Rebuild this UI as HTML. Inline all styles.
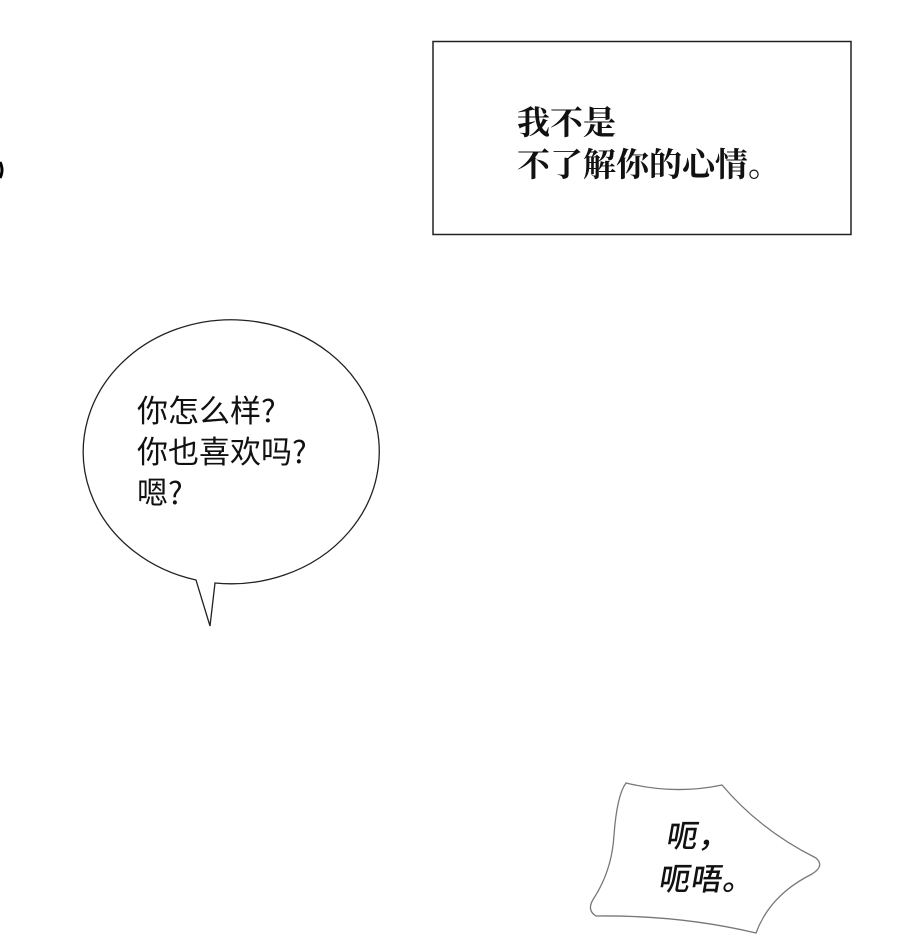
<!DOCTYPE html>
<html><head><meta charset="utf-8"><style>
body{margin:0;width:900px;height:942px;background:#fff;overflow:hidden;position:relative}
.t{position:absolute;white-space:nowrap;color:#111}
</style></head><body>
<svg width="900" height="942" style="position:absolute;left:0;top:0">
<rect x="433" y="41.5" width="418" height="193" fill="#fff" stroke="#222" stroke-width="1.5"/>
<path d="M 196 580 A 148 132 0 1 1 215 583 L 210 626 Z" fill="#fff" stroke="#222" stroke-width="1.3"/>
<path d="M 0 162 Q 4 170 0 178" fill="none" stroke="#000" stroke-width="3"/>
<path d="M 626 783 Q 675 795 722 785 Q 760 830 816 858 Q 825 866 812 874 Q 770 895 756 933 Q 680 915 596 916 Q 586 910 594 898 Q 612 870 614 835 Q 617 795 626 783 Z" fill="#fff" stroke="#777" stroke-width="1.3"/>
</svg>
<div class="t" style="left:517px;top:100px;font:bold 33px/42px 'Noto Serif CJK SC',serif">我不是<br>不了解你的心情。</div>
<div class="t" style="left:137px;top:388px;font:31px/41px 'Noto Sans CJK SC',sans-serif">你怎么样?<br>你也喜欢吗?<br>嗯?</div>
<div class="t" style="left:664px;top:812px;font:500 31px/43px 'Noto Sans CJK SC',sans-serif;transform:skewX(-10deg);letter-spacing:1px">呃，<br>呃唔。</div>
</body></html>
